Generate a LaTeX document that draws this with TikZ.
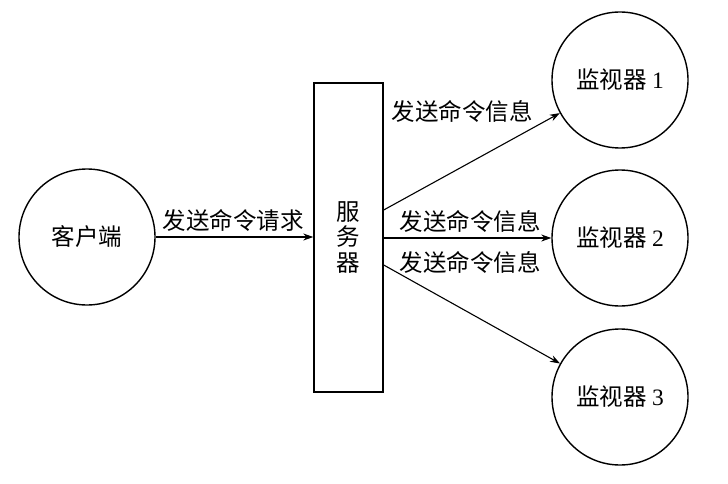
\documentclass[tikz,border=0pt]{standalone}
\usepackage{fontspec}
\setmainfont{Liberation Serif}
\newfontfamily\cjk{Noto Sans CJK SC}
\usetikzlibrary{arrows.meta}
\begin{document}
\begin{tikzpicture}[x=1pt,y=-1pt,
  every node/.style={font=\cjk\fontsize{23.5}{25.5}\selectfont},
  circ/.style={draw,circle,line width=1.4pt,minimum size=136pt,inner sep=0pt},
  box/.style={draw,rectangle,line width=1.4pt,minimum width=69pt,minimum height=309pt,align=center,inner sep=0pt},
  conn/.style={line width=1.1pt,-{Stealth[length=10pt,width=7pt]}},
  lbl/.style={inner sep=0pt}]
\useasboundingbox (0,0) rectangle (728,484);
\node[circ] (client) at (87,237) {客户端};
\node[box] (server) at (348.5,237.5) {服\\务\\器};
\node[circ] (m1) at (620,80) {监视器 {\rmfamily 1}};
\node[circ] (m2) at (620,238) {监视器 {\rmfamily 2}};
\node[circ] (m3) at (620,397) {监视器 {\rmfamily 3}};
\draw[conn] (client.east) -- (client.east -| server.west);
\draw[conn] ([yshift=27.5pt]server.east) -- (m1);
\draw[conn] (server.east |- m2) -- (m2);
\draw[conn] ([yshift=-27.5pt]server.east) -- (m3);
\node[lbl] (l0) at (233,220) {发送命令请求};
\node[lbl] (l1) at (462,111) {发送命令信息};
\node[lbl] (l2) at (470,221) {发送命令信息};
\node[lbl] (l3) at (470,262) {发送命令信息};
\end{tikzpicture}
\end{document}
